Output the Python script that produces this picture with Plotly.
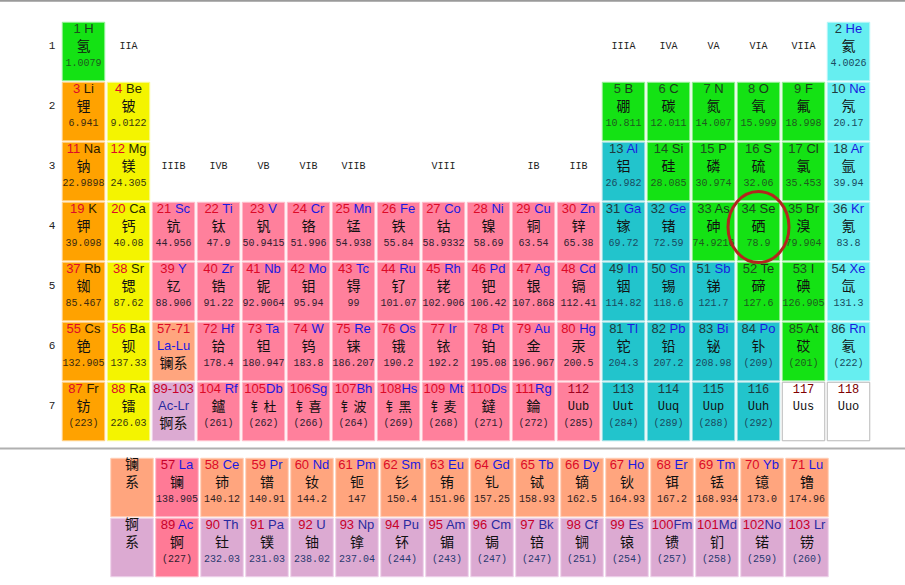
import plotly.graph_objects as go

# ---------------- data ----------------
SYMBOLS = ["H","He","Li","Be","B","C","N","O","F","Ne","Na","Mg","Al","Si","P","S","Cl","Ar",
           "K","Ca","Sc","Ti","V","Cr","Mn","Fe","Co","Ni","Cu","Zn","Ga","Ge","As","Se","Br","Kr",
           "Rb","Sr","Y","Zr","Nb","Mo","Tc","Ru","Rh","Pd","Ag","Cd","In","Sn","Sb","Te","I","Xe",
           "Cs","Ba","La","Ce","Pr","Nd","Pm","Sm","Eu","Gd","Tb","Dy","Ho","Er","Tm","Yb","Lu",
           "Hf","Ta","W","Re","Os","Ir","Pt","Au","Hg","Tl","Pb","Bi","Po","At","Rn",
           "Fr","Ra","Ac","Th","Pa","U","Np","Pu","Am","Cm","Bk","Cf","Es","Fm","Md","No","Lr",
           "Rf","Db","Sg","Bh","Hs","Mt","Ds","Rg","Uub","Uut","Uuq","Uup","Uuh","Uus","Uuo"]

NAMES = ["氢","氦","锂","铍","硼","碳","氮","氧","氟","氖","钠","镁","铝","硅","磷","硫","氯","氩",
         "钾","钙","钪","钛","钒","铬","锰","铁","钴","镍","铜","锌","镓","锗","砷","硒","溴","氪",
         "铷","锶","钇","锆","铌","钼","锝","钌","铑","钯","银","镉","铟","锡","锑","碲","碘","氙",
         "铯","钡","镧","铈","镨","钕","钷","钐","铕","钆","铽","镝","钬","铒","铥","镱","镥",
         "铪","钽","钨","铼","锇","铱","铂","金","汞","铊","铅","铋","钋","砹","氡",
         "钫","镭","锕","钍","镤","铀","镎","钚","镅","锔","锫","锎","锿","镄","钔","锘","铹",
         "鑪","钅杜","钅喜","钅波","钅黑","钅麦","鐽","錀","","","","","","",""]

WEIGHTS = ["1.0079","4.0026","6.941","9.0122","10.811","12.011","14.007","15.999","18.998","20.17",
           "22.9898","24.305","26.982","28.085","30.974","32.06","35.453","39.94",
           "39.098","40.08","44.956","47.9","50.9415","51.996","54.938","55.84","58.9332","58.69",
           "63.54","65.38","69.72","72.59","74.9216","78.9","79.904","83.8",
           "85.467","87.62","88.906","91.22","92.9064","95.94","99","101.07","102.906","106.42",
           "107.868","112.41","114.82","118.6","121.7","127.6","126.905","131.3",
           "132.905","137.33","138.905","140.12","140.91","144.2","147","150.4","151.96","157.25",
           "158.93","162.5","164.93","167.2","168.934","173.0","174.96",
           "178.4","180.947","183.8","186.207","190.2","192.2","195.08","196.967","200.5",
           "204.3","207.2","208.98","(209)","(201)","(222)",
           "(223)","226.03","(227)","232.03","231.03","238.02","237.04","(244)","(243)","(247)",
           "(247)","(251)","(254)","(257)","(258)","(259)","(260)",
           "(261)","(262)","(266)","(264)","(269)","(268)","(271)","(272)","(285)",
           "(284)","(289)","(288)","(292)","",""]

ALKALI = [3, 11, 19, 37, 55, 87]
ALKALINE = [4, 12, 20, 38, 56, 88]
NONMETAL = [1, 5, 6, 7, 8, 9, 14, 15, 16, 17, 33, 34, 35, 52, 53, 85]
POOR = [13, 31, 32, 49, 50, 51, 81, 82, 83, 84, 113, 114, 115, 116]
NOBLE = [2, 10, 18, 36, 54, 86]
UNKNOWN = [117, 118]
LANTHANIDES = list(range(57, 72))
ACTINIDES = list(range(89, 104))

ROW_LABELS = ["1", "2", "3", "4", "5", "6", "7"]
GROUP_LABELS_TOP = ["IIA", "IIIA", "IVA", "VA", "VIA", "VIIA"]
GROUP_LABELS_MID = ["IIIB", "IVB", "VB", "VIB", "VIIB", "VIII", "IB", "IIB"]
SERIES_NAMES = ["镧系", "锕系"]
SERIES_RANGES = ["57-71", "89-103"]
SERIES_SYMBOLS = ["La-Lu", "Ac-Lr"]
HIGHLIGHT = 34

assert len(SYMBOLS) == 118 and len(NAMES) == 118 and len(WEIGHTS) == 118

# ---------------- geometry (grid units: 1 column = 45px, 1 row = 60px) ----------------
W, H = 905, 585
CPX, RPX = 45.0, 60.0
X_RANGE = [1 - 83.5 / CPX, 1 + (W - 83.5) / CPX]
Y_RANGE = [1 + (H - 51.5) / RPX, 1 - 51.5 / RPX]
F_X0 = 1 + (132 - 83.5) / CPX          # series label column in f-block rows
F_Y = [1 + (487.5 - 51.5) / RPX, 1 + (547.5 - 51.5) / RPX]
CW, CH = 42.5 / CPX, 58.5 / RPX
DY1, DY2, DY3 = -21.5 / RPX, -4.5 / RPX, 11.5 / RPX


def main_pos(z):
    if z == 1:
        return 1, 1
    if z == 2:
        return 18, 1
    if z <= 18:
        period = 2 if z <= 10 else 3
        base = 2 if period == 2 else 10
        k = z - base
        return (k if k <= 2 else k + 10), period
    if z <= 36:
        return z - 18, 4
    if z <= 54:
        return z - 36, 5
    if z <= 86:
        return (z - 54 if z <= 56 else z - 68), 6
    return (z - 86 if z <= 88 else z - 100), 7


def category(z):
    if z in (57, 89):
        return "la_ac"
    if z in LANTHANIDES:
        return "lanth"
    if z in ACTINIDES:
        return "act"
    if z in ALKALI:
        return "alkali"
    if z in ALKALINE:
        return "alkaline"
    if z in NONMETAL:
        return "nonmetal"
    if z in POOR:
        return "poor"
    if z in NOBLE:
        return "noble"
    if z in UNKNOWN:
        return "unknown"
    return "transition"


RED = "#dc0a28"
BLUE = "#1a1ae0"
STYLE = {
    # fill, border, number color, symbol color, weight color
    "alkali":     ("#ffa200", "#ffd28a", RED, "#2a1a00", "#3a2a10"),
    "alkaline":   ("#f4f400", "#fafa9a", RED, "#2a2a00", "#3a3a10"),
    "transition": ("#ff809c", "#ffc0cc", RED, BLUE, "#302030"),
    "nonmetal":   ("#14e214", "#9af09a", "#1e4e1e", "#1a3a1a", "#1f5a1f"),
    "poor":       ("#22c4cc", "#a0e0e4", "#1e3a40", BLUE, "#1a4a60"),
    "noble":      ("#66eef0", "#b8f6f8", "#1e3a40", BLUE, "#1a4a60"),
    "unknown":    ("#ffffff", "#b8b8b8", "#800000", "#111111", "#333333"),
    "lanth":      ("#ffa57e", "#ffd0b8", RED, BLUE, "#302020"),
    "act":        ("#dcaad2", "#eed2ea", "#c8002a", "#2a2aa0", "#2a3a70"),
    "la_ac":      ("#ff7a96", "#ffb8c8", "#c8002a", BLUE, "#302030"),
}

SANS = "Liberation Sans"
MONO = "Liberation Mono"
CJK = "Noto Sans CJK SC"

fig = go.Figure()
shapes = []
texts = {}


def add_text(font, size, color, x, y, t):
    key = (font, size, color)
    texts.setdefault(key, ([], [], []))
    texts[key][0].append(x)
    texts[key][1].append(y)
    texts[key][2].append(t)


def add_cell(x, y, fill, border):
    shapes.append(dict(type="rect", xref="x", yref="y",
                       x0=x - CW / 2, x1=x + CW / 2, y0=y - CH / 2, y1=y + CH / 2,
                       fillcolor=fill, line=dict(color=border, width=1), layer="below"))


def add_element(z, x, y):
    cat = category(z)
    fill, border, nc, sc, wc = STYLE[cat]
    add_cell(x, y, fill, border)
    sym = SYMBOLS[z - 1]
    if z >= 112:
        add_text(MONO, 12, nc if z != 112 else "#a00020", x, y + DY1, str(z))
        add_text(MONO, 12, "#111111", x, y + DY2, sym)
    else:
        sep = " " if len(str(z)) + len(sym) <= 4 or sym in ("Rf", "Mt", "Lr") else ""
        top = (f'<span style="color:{nc}">{z}</span>{sep}'
               f'<span style="color:{sc}">{sym}</span>')
        add_text(SANS, 13, nc, x, y + DY1, top)
        name = NAMES[z - 1]
        if len(name) > 1:
            add_text(CJK, 13, "#111111", x, y + DY2 + 0.5 / RPX, name)
        else:
            add_text(CJK, 14, "#111111", x, y + DY2, name)
    if WEIGHTS[z - 1]:
        add_text(MONO, 10, wc, x, y + DY3, WEIGHTS[z - 1])


# main table
for z in range(1, 119):
    if z in LANTHANIDES or z in ACTINIDES:
        continue
    c, r = main_pos(z)
    add_element(z, c, r)

# series placeholders in main table (column 3, periods 6 and 7)
for i, (rng, syms, nm) in enumerate(zip(SERIES_RANGES, SERIES_SYMBOLS, SERIES_NAMES)):
    cat = "lanth" if i == 0 else "act"
    fill, border, nc, sc, wc = STYLE[cat]
    x, y = 3, 6 + i
    add_cell(x, y, fill, border)
    add_text(SANS, 13, nc, x, y + DY1, rng)
    add_text(SANS, 13, sc, x, y - 4.5 / RPX, syms)
    add_text(CJK, 14, "#111111", x, y + 12.5 / RPX, nm)

# f-block rows
for i, series in enumerate([LANTHANIDES, ACTINIDES]):
    cat = "lanth" if i == 0 else "act"
    fill, border, nc, sc, wc = STYLE[cat]
    y = F_Y[i]
    add_cell(F_X0, y, fill, border)
    add_text(CJK, 14, "#111111", F_X0, y - 22.5 / RPX, SERIES_NAMES[i][0])
    add_text(CJK, 14, "#111111", F_X0, y - 4.0 / RPX, SERIES_NAMES[i][1])
    for k, z in enumerate(series):
        add_element(z, F_X0 + 1 + k, y)

# row numbers
for r, lab in enumerate(ROW_LABELS, start=1):
    add_text(MONO, 11, "#222222", 1 + (52 - 83.5) / CPX, r - 5.0 / RPX, lab)

# group labels
top_cols = [2, 13, 14, 15, 16, 17]
for c, lab in zip(top_cols, GROUP_LABELS_TOP):
    add_text(MONO, 10, "#222222", c, 1 - 5.0 / RPX, lab)
mid_cols = [3, 4, 5, 6, 7, 9, 11, 12]
for c, lab in zip(mid_cols, GROUP_LABELS_MID):
    add_text(MONO, 10, "#222222", c, 3 - 5.0 / RPX, lab)

for (font, size, color), (xs, ys, ts) in texts.items():
    fig.add_trace(go.Scatter(x=xs, y=ys, text=ts, mode="text",
                             textposition="middle center",
                             textfont=dict(family=font, size=size, color=color),
                             hoverinfo="skip", showlegend=False))

# highlight circle around Se
hc, hr = main_pos(HIGHLIGHT)
shapes.append(dict(type="circle", xref="x", yref="y",
                   x0=hc - 30.5 / CPX, x1=hc + 30.5 / CPX,
                   y0=hr - 4.5 / RPX - 35.5 / RPX, y1=hr - 4.5 / RPX + 35.5 / RPX,
                   line=dict(color="#b3261e", width=3), layer="above"))

# gray separator lines
shapes.append(dict(type="line", xref="paper", yref="paper", x0=0, x1=1,
                   y0=1 - 0.8 / H, y1=1 - 0.8 / H, line=dict(color="#9a9a9a", width=2)))
shapes.append(dict(type="line", xref="paper", yref="paper", x0=0, x1=1,
                   y0=1 - 448.5 / H, y1=1 - 448.5 / H, line=dict(color="#b0b0b0", width=2)))

fig.update_layout(
    width=W, height=H, margin=dict(l=0, r=0, t=0, b=0),
    paper_bgcolor="white", plot_bgcolor="white",
    xaxis=dict(range=X_RANGE, visible=False, fixedrange=True),
    yaxis=dict(range=Y_RANGE, visible=False, fixedrange=True),
    shapes=shapes, hovermode=False, showlegend=False,
)

fig.write_html("out.html", config={"displayModeBar": False},
               post_script="document.body.style.margin='0';document.body.style.overflow='hidden';")
